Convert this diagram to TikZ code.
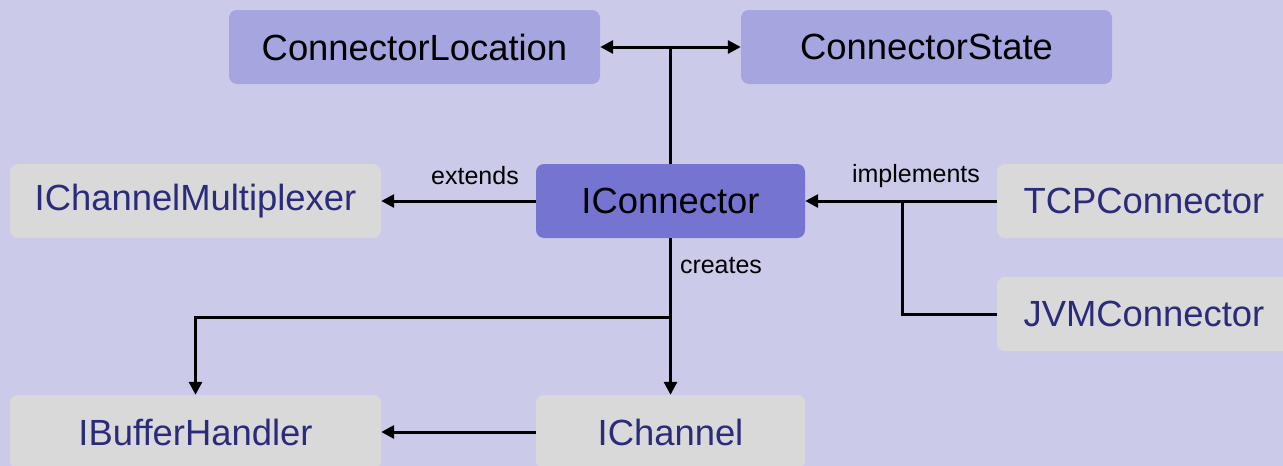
\documentclass[tikz,border=0pt]{standalone}
\usepackage{fontspec}
\setmainfont{Liberation Sans}
\usetikzlibrary{arrows.meta}
\definecolor{bg}{HTML}{CBCBE9}
\definecolor{topbox}{HTML}{A5A5E0}
\definecolor{mainbox}{HTML}{7575D1}
\definecolor{graybox}{HTML}{D9D9D9}
\definecolor{navy}{HTML}{2B2B7C}
\begin{document}
\begin{tikzpicture}[x=1pt,y=-1pt,
  box/.style={rounded corners=8pt, inner sep=0pt, minimum height=74pt, font=\fontsize{36.4}{40}\selectfont},
  topstyle/.style={box, fill=topbox, text=black, minimum width=371pt},
  mainstyle/.style={box, fill=mainbox, text=black, minimum width=269pt},
  graystyle/.style={box, fill=graybox, text=navy},
  conn/.style={line width=3pt, black},
  arr/.style={conn, -{Triangle[length=13pt,width=13pt]}},
  lbl/.style={font=\fontsize{25}{28}\selectfont, text=black, inner sep=0pt}]
\useasboundingbox (0,0) rectangle (1283,466);
\fill[bg] (0,0) rectangle (1283,466);
\clip (0,0) rectangle (1283,466);
\node[topstyle] (CL) at (414.5,47) {ConnectorLocation};
\node[topstyle] (CS) at (926.5,47) {ConnectorState};
\node[graystyle, minimum width=371pt] (ICM) at (195.5,201) {IChannelMultiplexer};
\node[mainstyle] (IC) at (670.5,201) {IConnector};
\node[graystyle, minimum width=294pt] (TCP) at (1144,201) {TCPConnector};
\node[graystyle, minimum width=294pt] (JVM) at (1144,314) {JVMConnector};
\node[graystyle, minimum width=371pt] (IBH) at (195.5,432) {IBufferHandler};
\node[graystyle, minimum width=269pt] (ICH) at (670.5,432) {IChannel};
\coordinate (top) at (670.5,47);
\coordinate (split) at (670.5,317);
\coordinate (jv) at (902,314);
\draw[conn] (IC.north) -- (top);
\draw[arr] (top) -- (CL.east);
\draw[arr] (top) -- (CS.west);
\draw[arr] (IC.west) -- (ICM.east);
\node[lbl] (ext) at (475,176) {extends};
\draw[arr] (TCP.west) -- (IC.east);
\node[lbl] (impl) at (916,176) {implements};
\draw[conn] (JVM.west) -- (jv) -- (jv |- IC.east);
\draw[arr] (IC.south) -- (ICH.north);
\node[lbl] (cr) at (721,266) {creates};
\draw[arr] (split) -- (split -| IBH.north) -- (IBH.north);
\draw[arr] (ICH.west) -- (IBH.east);
\end{tikzpicture}
\end{document}
